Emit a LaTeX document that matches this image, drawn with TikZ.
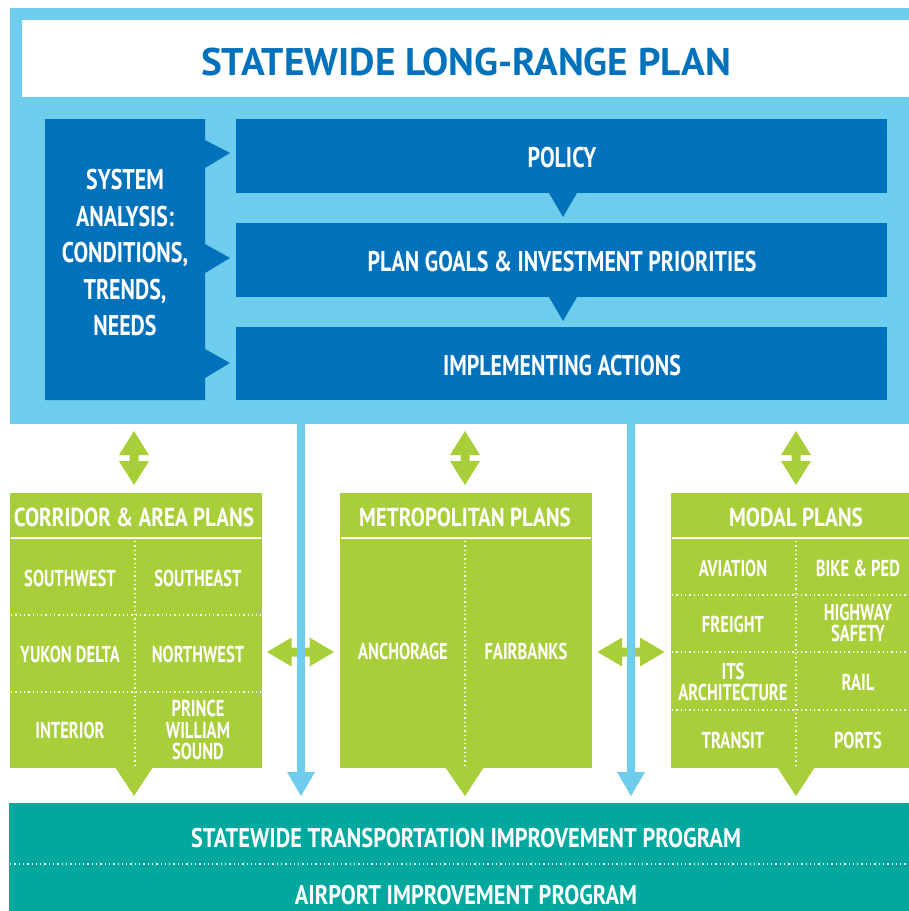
\documentclass[tikz,border=0pt]{standalone}
\usepackage{fontspec}
\setmainfont{PT Sans}
\newfontfamily\titlefont{PT Sans}[FakeStretch=1.02]
\newfontfamily\bluefont{PT Sans}[FakeStretch=0.77]
\newfontfamily\headfont{PT Sans}[FakeStretch=0.81]
\newfontfamily\bandfont{PT Sans}[FakeStretch=0.83]
\newfontfamily\condfont{PT Sans}[FakeStretch=0.72]
\definecolor{lightblue}{RGB}{110,204,236}
\definecolor{darkblue}{RGB}{0,114,187}
\definecolor{leaf}{RGB}{168,207,58}
\definecolor{teal}{RGB}{0,168,157}
\tikzset{
  titletext/.style={font=\titlefont\bfseries\fontsize{38.5}{40}\selectfont, text=darkblue, inner sep=0pt},
  bluetext/.style={font=\bluefont\bfseries\fontsize{28.5}{36.5}\selectfont, text=white, inner sep=0pt, align=center},
  headtext/.style={font=\headfont\bfseries\fontsize{26}{28}\selectfont, text=white, inner sep=0pt},
  celltext/.style={font=\condfont\bfseries\fontsize{23}{21.5}\selectfont, text=white, inner sep=0pt, align=center},
  bandtext/.style={font=\bandfont\bfseries\fontsize{27}{28}\selectfont, text=white, inner sep=0pt},
  dotline/.style={white, line width=1.3pt, dash pattern=on 1.3pt off 3pt},
  headline/.style={white, line width=2pt},
  feed/.style={lightblue, line width=8pt},
}
\begin{document}
\begin{tikzpicture}[x=1pt,y=-1pt]
\useasboundingbox (0,0) rectangle (909,911);
% frame of the long-range plan
\fill[lightblue] (10,8) rectangle (909,424);
\fill[white] (22,20) rectangle (909,97);
\node[titletext] (title) at (466,62) {STATEWIDE LONG-RANGE PLAN};
% system analysis box with notches
\fill[darkblue] (45,119) -- (205,119) -- (205,140) -- (230,153) -- (205,168)
  -- (205,244) -- (230,258) -- (205,273) -- (205,349) -- (230,363) -- (205,378)
  -- (205,400) -- (45,400) -- cycle;
\node[bluetext] (sys) at (125,253) {SYSTEM\\ANALYSIS:\\CONDITIONS,\\TRENDS,\\NEEDS};
% policy chain
\fill[darkblue] (236,119) rectangle (887,193);
\fill[darkblue] (549,193) -- (563,217) -- (577,193) -- cycle;
\fill[darkblue] (236,223) rectangle (887,297);
\fill[darkblue] (549,297) -- (563,321) -- (577,297) -- cycle;
\fill[darkblue] (236,327) rectangle (887,400);
\node[bluetext] (policy) at (562,158) {POLICY};
\node[bluetext] (goals) at (562,262) {PLAN GOALS \& INVESTMENT PRIORITIES};
\node[bluetext] (impl) at (562,366) {IMPLEMENTING ACTIONS};
% up/down arrows
\foreach \c in {134,465,796}{
  \fill[leaf] (\c,431) -- (\c+15,455) -- (\c+4.5,455) -- (\c+4.5,461) -- (\c+15,461)
    -- (\c,485) -- (\c-15,461) -- (\c-4.5,461) -- (\c-4.5,455) -- (\c-15,455) -- cycle;
}
% green boxes
\fill[leaf] (10,493) rectangle (262,768);
\fill[leaf] (115,767) -- (134,796) -- (153,767) -- cycle;
\fill[leaf] (340,493) rectangle (592,768);
\fill[leaf] (445,767) -- (465,796) -- (484,767) -- cycle;
\fill[leaf] (671,493) rectangle (909,768);
\fill[leaf] (777,767) -- (796,796) -- (815,767) -- cycle;
\draw[headline] (11,538) -- (261,538);
\draw[headline] (341,538) -- (591,538);
\draw[headline] (672,538) -- (909,538);
\draw[dotline] (135,541) -- (135,767);
\draw[dotline] (11,615) -- (261,615);
\draw[dotline] (11,692) -- (261,692);
\draw[dotline] (465,541) -- (465,767);
\draw[dotline] (796,541) -- (796,767);
\draw[dotline] (672,595) -- (909,595);
\draw[dotline] (672,652) -- (909,652);
\draw[dotline] (672,710) -- (909,710);
\node[headtext] (corr) at (134,517) {CORRIDOR \& AREA PLANS};
\node[headtext] (metro) at (465,517) {METROPOLITAN PLANS};
\node[headtext] (modal) at (796,517) {MODAL PLANS};
\node[celltext] (sw) at (70,578) {SOUTHWEST};
\node[celltext] (se) at (198,578) {SOUTHEAST};
\node[celltext] (yd) at (70,654) {YUKON DELTA};
\node[celltext] (nw) at (198,654) {NORTHWEST};
\node[celltext] (int) at (70,730) {INTERIOR};
\node[celltext] (pws) at (198,730) {PRINCE\\WILLIAM\\SOUND};
\node[celltext] (anc) at (403,651) {ANCHORAGE};
\node[celltext] (fai) at (526,651) {FAIRBANKS};
\node[celltext] (avi) at (733,568) {AVIATION};
\node[celltext] (bike) at (858,568) {BIKE \& PED};
\node[celltext] (fre) at (733,624) {FREIGHT};
\node[celltext] (hwy) at (858,623) {HIGHWAY\\SAFETY};
\node[celltext] (its) at (733,682) {ITS\\ARCHITECTURE};
\node[celltext] (rail) at (858,682) {RAIL};
\node[celltext] (tra) at (733,740) {TRANSIT};
\node[celltext] (ports) at (858,740) {PORTS};
% horizontal double arrows
\foreach \c in {300.5,631}{
  \fill[leaf] (\c-33.5,652) -- (\c-9,637.5) -- (\c-9,647.5) -- (\c+9,647.5) -- (\c+9,637.5)
    -- (\c+33.5,652) -- (\c+9,666.5) -- (\c+9,656.5) -- (\c-9,656.5) -- (\c-9,666.5) -- cycle;
}
% feeds from implementing actions to the program
\coordinate (f1) at (301,420);
\coordinate (f1e) at (301,773);
\coordinate (f2) at (631,420);
\coordinate (f2e) at (631,773);
\draw[feed] (f1) -- (f1e);
\draw[feed] (f2) -- (f2e);
\fill[lightblue] (287,772) -- (301,796) -- (315,772) -- cycle;
\fill[lightblue] (617,772) -- (631,796) -- (645,772) -- cycle;
% program band
\fill[teal] (9,803) rectangle (909,911);
\draw[dotline] (10,864) -- (909,864);
\node[bandtext] (stip) at (466,838) {STATEWIDE TRANSPORTATION IMPROVEMENT PROGRAM};
\node[bandtext] (aip) at (466,895) {AIRPORT IMPROVEMENT PROGRAM};
\end{tikzpicture}
\end{document}
